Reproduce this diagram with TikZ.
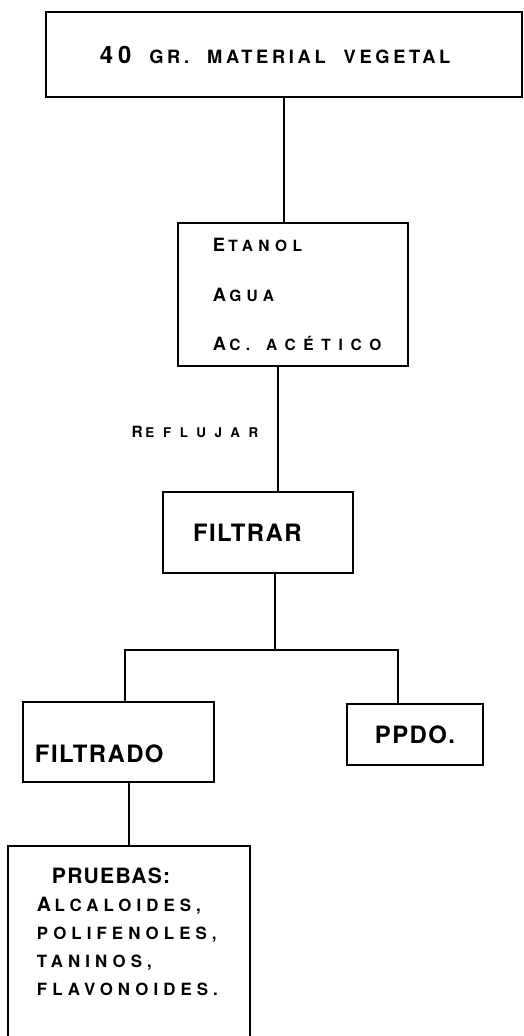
\documentclass[tikz,border=0pt]{standalone}
\usepackage{fontspec}
\setmainfont{TeX Gyre Heros}
\newfontfamily\lsM{TeX Gyre Heros}[LetterSpace=20]
\newfontfamily\lsP{TeX Gyre Heros}[LetterSpace=30]
\newfontfamily\lsN{TeX Gyre Heros}[LetterSpace=35]
\newfontfamily\lsK{TeX Gyre Heros}[LetterSpace=50]
\newfontfamily\lsL{TeX Gyre Heros}[LetterSpace=65]
\newfontfamily\lsS{TeX Gyre Heros}[LetterSpace=6]
\newcommand\tam[2]{\fontsize{#1}{#2}\selectfont}
% versalita hecha a mano: inicial grande, resto chico
\newcommand\vc[4]{{\fontsize{#1}{#1}\selectfont #2}{\fontsize{#3}{#3}\selectfont\kern0.2em #4}}
\newcommand\esp{\hspace{4.5mm}}
\usetikzlibrary{positioning}
\tikzset{
  % cajas del esquema
  caja/.style={draw=black,line width=1.1pt,rectangle,align=left,inner sep=0pt},
  linea/.style={draw=black,line width=1.1pt},
  mayus/.style={font=\lsS\bfseries\tam{#1}{#1}},
}

\begin{document}
\begin{tikzpicture}[x=0.25mm,y=-0.25mm]
\clip (0,0) rectangle (524,1036);
  \node[caja,font=\lsM\bfseries,minimum width=119mm,minimum height=21.25mm,text width=92mm]
    (mat) at (284,54.5) {{\tam{17}{17}40}{\tam{13}{13}\esp GR.\esp MATERIAL\esp VEGETAL}};
  \node[caja,font=\lsN\bfseries\tam{13}{35},minimum width=57.5mm,
    minimum height=35.75mm,text width=40mm]
    (solv) at (293,294.5) {\vc{13}{E}{11}{TANOL}\\\vc{13}{A}{11}{GUA}\\
    \mbox{\vc{13}{A}{11}{C.\hspace{4mm}{\lsK ACÉTICO}}}};
  \node[font=\lsL\bfseries] (refl) at (195,432) {\vc{11}{R}{9.5}{EFLUJAR}};
  \node[caja,mayus=17,minimum width=47.5mm,minimum height=20.25mm,text width=32.5mm]
    (filtrar) at (258,532.5) {FILTRAR};
  \coordinate (fork) at (275,650);
  \node[caja,mayus=17,minimum width=47.75mm,minimum height=20mm,text width=41.75mm,
    text height=10mm,text depth=0mm] (filtrado) at (118.5,742) {FILTRADO};
  \node[caja,mayus=17,align=center,minimum width=34mm,minimum height=15.25mm]
    (ppdo) at (415,734.5) {PPDO.};
  \node[caja,anchor=north,font=\lsP\bfseries\tam{12}{20},text width=46mm,
    inner xsep=7.25mm,inner ysep=5.5mm] (pruebas) at (129,845)
    {\hspace*{3.75mm}{\lsS\tam{15}{15}PRUEBAS:}\\\vc{14}{A}{12}{LCALOIDES,}\\POLIFENOLES,\\
     TANINOS,\\FLAVONOIDES.\\[12mm]\mbox{}};
  \draw[linea] (mat.south) -- (mat.south |- solv.north);
  \draw[linea] ([xshift=-3.75mm]solv.south) -- ([xshift=-3.75mm]solv.south |- filtrar.north);
  \draw[linea] ([xshift=4.25mm]filtrar.south) -- (fork);
  \draw[linea] ([xshift=1.6mm]filtrado.north) |- (fork) -| ([xshift=-4.25mm]ppdo.north);
  \draw[linea] (pruebas.north) -- (pruebas.north |- filtrado.south);
\end{tikzpicture}
\end{document}
